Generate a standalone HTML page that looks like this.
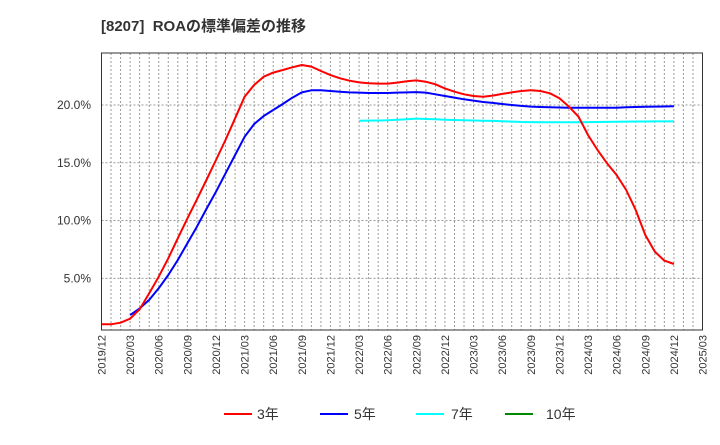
<!DOCTYPE html>
<html><head><meta charset="utf-8"><style>
body{margin:0;background:#fff;font-family:"Liberation Sans","Noto Sans CJK JP",sans-serif}
svg text{font-family:"Liberation Sans","Noto Sans CJK JP",sans-serif}
</style></head><body>
<svg id="c" width="720" height="440" xmlns="http://www.w3.org/2000/svg">
<text x="101" y="31" font-size="15" font-weight="bold" fill="#333">[8207]&#160; ROAの標準偏差の推移</text>
<g id="grid"></g><g id="series"></g><g id="axes"></g>
<g>
<g><line x1="224" y1="414" x2="252" y2="414" stroke="#f00" stroke-width="2"/><text x="257" y="419" font-size="14" fill="#333">3年</text></g>
<g><line x1="320" y1="414" x2="348" y2="414" stroke="#00f" stroke-width="2"/><text x="354" y="419" font-size="14" fill="#333">5年</text></g>
<g><line x1="416" y1="414" x2="444" y2="414" stroke="#0ff" stroke-width="2"/><text x="451" y="419" font-size="14" fill="#333">7年</text></g>
<g><line x1="505" y1="414" x2="533" y2="414" stroke="#080" stroke-width="2"/><text x="546" y="419" font-size="14" fill="#333">10年</text></g>
</g>
</svg>
<script>
const yTicks=[5,10,15,20];
const s3=[1.02,1.02,1.16,1.51,2.32,3.70,5.14,6.73,8.46,10.19,11.83,13.51,15.24,16.97,18.85,20.72,21.73,22.45,22.80,23.03,23.26,23.46,23.32,22.94,22.59,22.31,22.10,21.96,21.88,21.85,21.85,21.94,22.05,22.13,22.02,21.79,21.44,21.15,20.93,20.78,20.72,20.81,20.96,21.09,21.21,21.27,21.21,21.01,20.58,19.86,18.99,17.40,16.10,14.95,13.94,12.64,10.91,8.75,7.31,6.53,6.24];
const s5=[null,null,null,1.82,2.4,3.13,4.14,5.29,6.59,8.03,9.47,11.0,12.5,14.08,15.67,17.25,18.35,19.05,19.57,20.09,20.63,21.09,21.27,21.27,21.21,21.15,21.09,21.07,21.04,21.04,21.04,21.07,21.09,21.12,21.07,20.93,20.78,20.64,20.49,20.38,20.26,20.18,20.09,20.0,19.92,19.86,19.83,19.8,19.78,19.77,19.77,19.77,19.77,19.77,19.77,19.8,19.83,19.84,19.86,19.87,19.89];
const s7=[null,null,null,null,null,null,null,null,null,null,null,null,null,null,null,null,null,null,null,null,null,null,null,null,null,null,null,18.64,18.65,18.66,18.68,18.72,18.77,18.82,18.79,18.76,18.73,18.70,18.68,18.66,18.64,18.62,18.59,18.56,18.53,18.52,18.51,18.50,18.50,18.51,18.51,18.52,18.53,18.54,18.55,18.56,18.57,18.57,18.58,18.58,18.58];
const startYear=2019,startMonth=12,nMonths=63;
const X0=101.5,X1=702.5,Y0=53,Y1=330;
const x=i=>X0+(X1-X0)*i/nMonths;
const y=v=>336.1-v*11.555;
const NS="http://www.w3.org/2000/svg";
function mk(t,a,p){const e=document.createElementNS(NS,t);for(const k in a)e.setAttribute(k,a[k]);p.appendChild(e);return e;}
const grid=document.getElementById('grid'),axes=document.getElementById('axes'),ser=document.getElementById('series');
for(let i=1;i<nMonths;i++){const l=mk('line',{x1:x(i),x2:x(i),y1:Y0,y2:Y1,stroke:'#999','stroke-dasharray':'2,2','stroke-width':1},grid);

}
yTicks.forEach(v=>{const l=mk('line',{x1:X0,x2:X1,y1:y(v),y2:y(v),stroke:'#999','stroke-dasharray':'2,2'},grid);


const t=mk('text',{x:91,y:y(v)+4,'text-anchor':'end','font-size':12,fill:'#333'},axes);t.textContent=v.toFixed(1)+'%';

});
for(let i=0;i<=nMonths;i+=3){let m=startMonth+i,yr=startYear+Math.floor((m-1)/12);m=((m-1)%12)+1;
const t=mk('text',{transform:`translate(${x(i)+4},335) rotate(-90)`,'text-anchor':'end','font-size':11,fill:'#333'},axes);
t.textContent=yr+'/'+String(m).padStart(2,'0');

}
const fr=mk('rect',{x:X0,y:Y0,width:X1-X0,height:Y1-Y0,fill:'none',stroke:'#333','stroke-width':1},axes);


function line(d,c,n){let p='';d.forEach((v,i)=>{if(v==null)return;p+=(p?'L':'M')+x(i).toFixed(1)+','+y(v).toFixed(1);});
const e=mk('path',{d:p,fill:'none',stroke:c,'stroke-width':2,'stroke-linejoin':'round'},ser);

}
line(s7,'#0ff','series-7y');line(s5,'#00f','series-5y');line(s3,'#f00','series-3y');
</script>
</body></html>
